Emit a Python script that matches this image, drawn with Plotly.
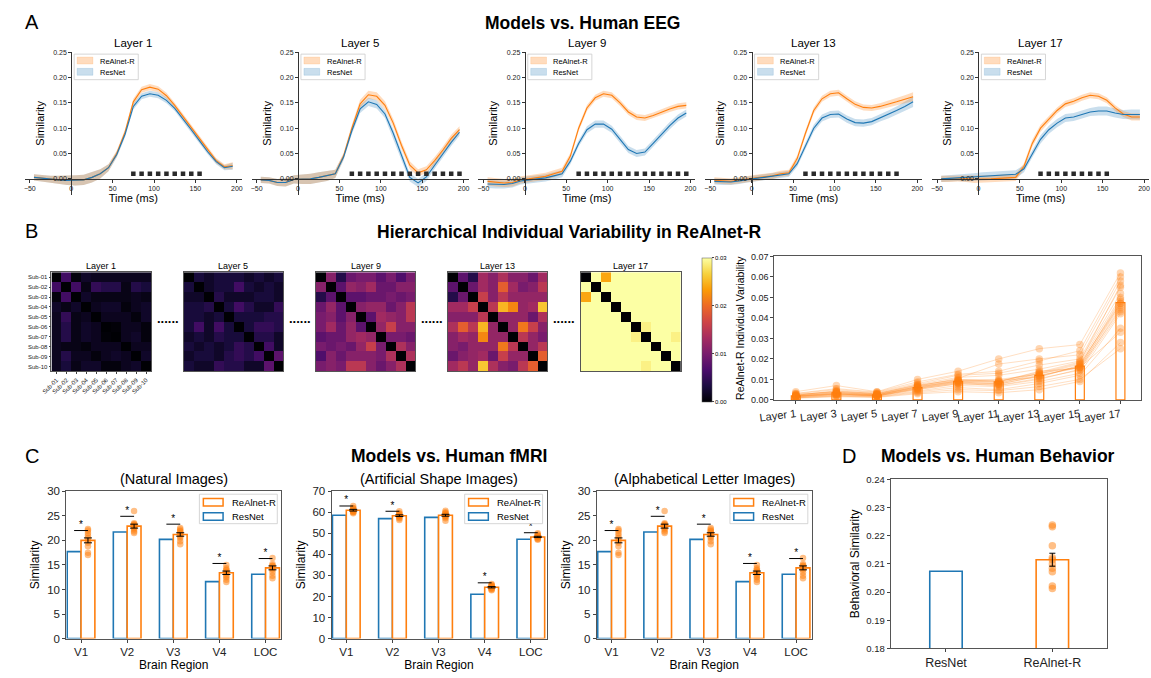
import plotly.graph_objects as go
import numpy as np

W, H = 1151, 678
FONT = 'Liberation Sans, Arial, sans-serif'
ORANGE = '#ff7f0e'
BLUE = '#1f77b4'
O_FILL = 'rgba(255,127,14,0.27)'
B_FILL = 'rgba(31,119,180,0.24)'


def PX(x):
    return x / W


def PY(y):
    return 1 - y / H


# ------------------------------------------------------------------ data A
times = [-45, -35, -25, -15, -5, 5, 15, 25, 35, 45, 55, 65, 75, 85, 95, 105,
         115, 125, 135, 145, 155, 165, 175, 185, 195]
eeg_layers = ['Layer 1', 'Layer 5', 'Layer 9', 'Layer 13', 'Layer 17']

realnet_L1 = [0.003, 0.001, -0.001, -0.002, -0.003, -0.003, -0.002, 0.003, 0.010, 0.022, 0.050, 0.092, 0.152,
              0.176, 0.181, 0.177, 0.164, 0.145, 0.123, 0.100, 0.078, 0.056, 0.036, 0.024, 0.026]
resnet_L1 = [0.003, 0.001, -0.001, -0.002, -0.003, -0.003, -0.002, 0.003, 0.010, 0.022, 0.048, 0.088, 0.143,
             0.163, 0.168, 0.165, 0.155, 0.139, 0.119, 0.097, 0.075, 0.053, 0.034, 0.022, 0.025]
realnet_sem_L1 = [0.006, 0.006, 0.007, 0.008, 0.009, 0.010, 0.010, 0.010, 0.009, 0.007, 0.006, 0.006, 0.006,
                  0.006, 0.006, 0.006, 0.006, 0.005, 0.005, 0.005, 0.005, 0.005, 0.005, 0.005, 0.007]
resnet_sem_L1 = [0.006, 0.006, 0.007, 0.008, 0.009, 0.010, 0.010, 0.010, 0.009, 0.007, 0.006, 0.006, 0.006,
                 0.006, 0.006, 0.006, 0.006, 0.005, 0.005, 0.005, 0.005, 0.005, 0.005, 0.005, 0.007]
sig_L1 = [75, 85, 95, 105, 115, 125, 135, 145, 155]

realnet_L5 = [-0.002, -0.003, -0.007, -0.007, -0.001, -0.001, 0.000, 0.003, 0.006, 0.010, 0.045, 0.100, 0.148,
              0.166, 0.163, 0.145, 0.110, 0.066, 0.027, 0.012, 0.018, 0.036, 0.057, 0.080, 0.097]
resnet_L5 = [-0.002, -0.003, -0.007, -0.007, -0.001, -0.001, 0.000, 0.003, 0.006, 0.010, 0.043, 0.095, 0.138,
             0.152, 0.147, 0.128, 0.090, 0.045, 0.003, -0.008, 0.004, 0.027, 0.050, 0.072, 0.092]
realnet_sem_L5 = [0.006, 0.006, 0.007, 0.008, 0.008, 0.009, 0.010, 0.010, 0.010, 0.008, 0.006, 0.007, 0.008,
                  0.008, 0.008, 0.008, 0.008, 0.008, 0.008, 0.007, 0.007, 0.007, 0.007, 0.007, 0.007]
resnet_sem_L5 = [0.006, 0.006, 0.007, 0.008, 0.008, 0.009, 0.010, 0.010, 0.010, 0.008, 0.006, 0.007, 0.008,
                 0.008, 0.008, 0.008, 0.008, 0.008, 0.008, 0.008, 0.008, 0.007, 0.007, 0.007, 0.007]
sig_L5 = [65, 75, 85, 95, 105, 115, 125, 135, 145, 155, 165, 175, 185, 195]

realnet_L9 = [-0.005, -0.007, -0.008, -0.007, -0.002, 0.000, 0.003, 0.005, 0.010, 0.015, 0.045, 0.100, 0.140,
              0.160, 0.168, 0.165, 0.150, 0.132, 0.122, 0.120, 0.125, 0.132, 0.138, 0.143, 0.145]
resnet_L9 = [-0.010, -0.011, -0.011, -0.009, -0.004, -0.002, 0.000, 0.002, 0.006, 0.010, 0.035, 0.070, 0.097,
             0.108, 0.108, 0.098, 0.078, 0.058, 0.050, 0.053, 0.070, 0.088, 0.105, 0.120, 0.130]
realnet_sem_L9 = [0.008, 0.008, 0.008, 0.008, 0.007, 0.007, 0.007, 0.007, 0.007, 0.007, 0.006, 0.006, 0.006,
                  0.006, 0.006, 0.006, 0.006, 0.006, 0.006, 0.006, 0.006, 0.006, 0.006, 0.006, 0.006]
resnet_sem_L9 = [0.008, 0.008, 0.008, 0.008, 0.007, 0.007, 0.007, 0.007, 0.007, 0.007, 0.006, 0.006, 0.007,
                 0.007, 0.007, 0.007, 0.007, 0.007, 0.007, 0.007, 0.007, 0.007, 0.007, 0.007, 0.007]
sig_L9 = [65, 75, 85, 95, 105, 115, 125, 135, 145, 155, 165, 175, 185, 195]

realnet_L13 = [-0.003, -0.004, -0.005, -0.003, 0.000, 0.002, 0.004, 0.006, 0.010, 0.012, 0.040, 0.090, 0.135,
               0.158, 0.168, 0.170, 0.158, 0.147, 0.141, 0.140, 0.143, 0.147, 0.152, 0.157, 0.162]
resnet_L13 = [-0.005, -0.006, -0.006, -0.004, -0.001, 0.001, 0.003, 0.005, 0.008, 0.010, 0.030, 0.065, 0.100,
              0.120, 0.127, 0.128, 0.118, 0.111, 0.110, 0.113, 0.120, 0.127, 0.135, 0.143, 0.152]
realnet_sem_L13 = [0.006, 0.006, 0.006, 0.006, 0.006, 0.006, 0.006, 0.006, 0.006, 0.006, 0.006, 0.006, 0.006,
                   0.006, 0.006, 0.006, 0.006, 0.006, 0.006, 0.006, 0.006, 0.007, 0.007, 0.008, 0.009]
resnet_sem_L13 = [0.006, 0.006, 0.006, 0.006, 0.006, 0.006, 0.006, 0.006, 0.006, 0.006, 0.006, 0.007, 0.007,
                  0.007, 0.007, 0.007, 0.007, 0.007, 0.007, 0.007, 0.007, 0.008, 0.008, 0.009, 0.010]
sig_L13 = [65, 75, 85, 95, 105, 115, 125, 135, 145, 155, 165, 175]

realnet_L17 = [0.000, 0.000, 0.001, 0.000, -0.001, -0.001, 0.000, 0.001, 0.002, 0.003, 0.025, 0.070, 0.100,
               0.118, 0.135, 0.148, 0.153, 0.160, 0.165, 0.163, 0.155, 0.140, 0.128, 0.122, 0.122]
resnet_L17 = [0.000, 0.001, 0.002, 0.002, 0.003, 0.005, 0.006, 0.007, 0.008, 0.009, 0.020, 0.050, 0.078,
              0.097, 0.110, 0.120, 0.122, 0.127, 0.132, 0.134, 0.134, 0.130, 0.127, 0.127, 0.127]
realnet_sem_L17 = [0.006, 0.006, 0.006, 0.006, 0.007, 0.007, 0.007, 0.007, 0.007, 0.007, 0.006, 0.007, 0.007,
                   0.006, 0.006, 0.006, 0.006, 0.006, 0.006, 0.006, 0.006, 0.006, 0.006, 0.007, 0.007]
resnet_sem_L17 = [0.006, 0.006, 0.006, 0.007, 0.008, 0.008, 0.008, 0.008, 0.008, 0.008, 0.007, 0.008, 0.008,
                  0.008, 0.008, 0.008, 0.008, 0.008, 0.008, 0.009, 0.009, 0.009, 0.009, 0.010, 0.010]
sig_L17 = [75, 85, 95, 105, 115, 125, 135, 145, 155]

sig_marker_level = 0.01

eeg_realnet = [realnet_L1, realnet_L5, realnet_L9, realnet_L13, realnet_L17]
eeg_resnet = [resnet_L1, resnet_L5, resnet_L9, resnet_L13, resnet_L17]
eeg_realnet_sem = [realnet_sem_L1, realnet_sem_L5, realnet_sem_L9, realnet_sem_L13, realnet_sem_L17]
eeg_resnet_sem = [resnet_sem_L1, resnet_sem_L5, resnet_sem_L9, resnet_sem_L13, resnet_sem_L17]
eeg_sig = [sig_L1, sig_L5, sig_L9, sig_L13, sig_L17]

# ------------------------------------------------------------------ data B
subjects = ['Sub-01', 'Sub-02', 'Sub-03', 'Sub-04', 'Sub-05', 'Sub-06', 'Sub-07', 'Sub-08', 'Sub-09', 'Sub-10']
heat_layers = ['Layer 1', 'Layer 5', 'Layer 9', 'Layer 13', 'Layer 17']

heat_upper_L1 = [
    [.006, .0005, .002, .0015, .0015, .0015, .0015, .0015, .0015],
    [.006, .001, .005, .004, .004, .001, .004, .003],
    [.002, .001, .001, .001, .001, .0015, .001],
    [.0015, .002, .002, .0005, .0015, .002],
    [.0015, .0015, .0015, .0005, .002],
    [.0002, .0015, .0015, .0005],
    [.0015, .002, .0005],
    [.0015, .0015],
    [.002],
]
heat_upper_L5 = [
    [.003, .002, .003, .003, .003, .002, .003, .002, .003],
    [.002, .003, .003, .006, .003, .002, .003, .002],
    [.004, .002, .002, .002, .003, .003, .002],
    [.003, .006, .004, .002, .002, .005],
    [.003, .003, .003, .004, .004],
    [.003, .005, .005, .004],
    [.004, .004, .002],
    [.006, .002],
    [.008],
]
heat_upper_L9 = [
    [.011, .004, .009, .010, .010, .008, .010, .007, .010],
    [.008, .012, .011, .013, .009, .009, .011, .011],
    [.008, .008, .009, .009, .010, .009, .010],
    [.011, .012, .012, .009, .011, .015],
    [.008, .013, .012, .011, .015],
    [.012, .016, .011, .011],
    [.010, .010, .009],
    [.014, .011],
    [.014],
]
heat_upper_L13 = [
    [.008, .004, .013, .011, .014, .011, .011, .009, .013],
    [.009, .013, .011, .019, .013, .010, .011, .015],
    [.016, .011, .015, .012, .012, .012, .012],
    [.015, .025, .022, .012, .013, .026],
    [.012, .012, .012, .009, .014],
    [.012, .021, .016, .011],
    [.015, .012, .010],
    [.012, .015],
    [.019],
]
heat_upper_L17 = [
    [.048, .024, .052, .045, .050, .041, .047, .055, .043],
    [.046, .051, .044, .049, .053, .042, .047, .050],
    [.045, .048, .040, .046, .051, .044, .049],
    [.047, .052, .043, .050, .045, .048],
    [.046, .041, .049, .044, .052],
    [.029, .047, .050, .043],
    [.045, .042, .029],
    [.048, .046],
    [.051],
]
heat_uppers = [heat_upper_L1, heat_upper_L5, heat_upper_L9, heat_upper_L13, heat_upper_L17]

var_layers = ['Layer 1', 'Layer 3', 'Layer 5', 'Layer 7', 'Layer 9', 'Layer 11', 'Layer 13', 'Layer 15', 'Layer 17']
var_bar_means = [0.0020, 0.0035, 0.0025, 0.0060, 0.0090, 0.0088, 0.0120, 0.0165, 0.0475]
var_individual = [
    [.0020, .0030, .0025, .0060, .0090, .0085, .0120, .0160, .0470],
    [.0025, .0040, .0030, .0070, .0100, .0090, .0130, .0180, .0500],
    [.0015, .0025, .0020, .0050, .0080, .0070, .0100, .0150, .0450],
    [.0030, .0050, .0035, .0080, .0120, .0130, .0170, .0200, .0550],
    [.0010, .0020, .0015, .0040, .0060, .0050, .0080, .0120, .0350],
    [.0040, .0070, .0040, .0100, .0140, .0200, .0250, .0270, .0620],
    [.0020, .0035, .0025, .0065, .0095, .0095, .0110, .0170, .0480],
    [.0018, .0030, .0020, .0055, .0085, .0080, .0130, .0160, .0460],
    [.0022, .0045, .0030, .0075, .0110, .0120, .0150, .0190, .0520],
    [.0012, .0022, .0018, .0045, .0070, .0065, .0090, .0130, .0420],
    [.0028, .0038, .0028, .0068, .0105, .0175, .0200, .0220, .0580],
    [.0016, .0028, .0022, .0058, .0088, .0078, .0115, .0165, .0490],
    [.0008, .0015, .0012, .0030, .0040, .0035, .0050, .0090, .0280],
    [.0024, .0042, .0032, .0072, .0098, .0100, .0125, .0175, .0470],
    [.0019, .0033, .0024, .0062, .0092, .0088, .0140, .0155, .0440],
    [.0014, .0026, .0019, .0052, .0078, .0072, .0105, .0145, .0430],
    [.0032, .0055, .0038, .0088, .0125, .0140, .0190, .0240, .0600],
    [.0010, .0018, .0014, .0035, .0050, .0045, .0065, .0100, .0250],
    [.0021, .0036, .0026, .0064, .0093, .0092, .0135, .0185, .0560],
    [.0017, .0029, .0021, .0056, .0083, .0076, .0118, .0158, .0330],
]

# ------------------------------------------------------------------ data C
regions = ['V1', 'V2', 'V3', 'V4', 'LOC']

nat_resnet = [17.7, 21.7, 20.2, 11.6, 13.1]
nat_realnet = [20.0, 22.9, 21.2, 13.4, 14.4]
nat_realnet_sem = [0.5, 0.4, 0.35, 0.35, 0.4]
nat_subjects = [
    [22.3, 22.0, 21.5, 20.5, 20.0, 19.5, 18.8, 17.5, 17.0, 21.0],
    [26.0, 23.5, 23.2, 23.0, 22.8, 22.5, 22.2, 21.8, 21.5, 23.3],
    [22.5, 22.2, 21.8, 21.5, 21.2, 20.8, 20.5, 19.8, 19.2, 21.9],
    [15.0, 14.3, 13.8, 13.5, 13.2, 12.8, 12.5, 12.0, 11.5, 14.0],
    [16.4, 15.2, 14.8, 14.5, 14.3, 14.0, 13.5, 12.8, 12.3, 14.9],
]
nat_sig_y = [22.0, 24.9, 23.3, 15.3, 16.3]

art_resnet = [58.6, 57.0, 57.6, 21.1, 47.2]
art_realnet = [61.0, 58.4, 58.6, 24.4, 48.3]
art_realnet_sem = [0.4, 0.4, 0.45, 0.3, 0.3]
art_subjects = [
    [63.0, 62.0, 61.5, 61.0, 60.8, 60.5, 60.0, 59.5, 61.8, 60.2],
    [60.5, 59.5, 59.0, 58.5, 58.2, 58.0, 57.5, 57.0, 56.3, 59.2],
    [60.7, 60.0, 59.3, 58.8, 58.5, 58.2, 57.8, 57.2, 56.0, 59.6],
    [26.0, 25.5, 25.0, 24.6, 24.3, 24.0, 23.7, 23.3, 23.0, 25.2],
    [50.0, 49.5, 49.0, 48.6, 48.3, 48.0, 47.6, 47.3, 47.0, 48.8],
]
art_sig_y = [63.0, 60.5, None, 26.5, 50.3]

alp_resnet = [17.7, 21.7, 20.2, 11.6, 13.1]
alp_realnet = [20.0, 22.9, 21.2, 13.4, 14.4]
alp_realnet_sem = [0.5, 0.4, 0.35, 0.35, 0.4]
alp_subjects = [
    [22.3, 22.0, 21.5, 20.5, 20.0, 19.5, 18.8, 17.5, 17.0, 21.0],
    [26.0, 23.5, 23.2, 23.0, 22.8, 22.5, 22.2, 21.8, 21.5, 23.3],
    [22.5, 22.2, 21.8, 21.5, 21.2, 20.8, 20.5, 19.8, 19.2, 21.9],
    [15.0, 14.3, 13.8, 13.5, 13.2, 12.8, 12.5, 12.0, 11.5, 14.0],
    [16.4, 15.2, 14.8, 14.5, 14.3, 14.0, 13.5, 12.8, 12.3, 14.9],
]
alp_sig_y = [22.0, 24.9, 23.3, 15.3, 16.3]

# ------------------------------------------------------------------ data D
beh_models = ['ResNet', 'ReAlnet-R']
beh_resnet = 0.2074
beh_realnet = 0.2115
beh_realnet_sem = 0.0023
beh_subjects = [0.2238, 0.2232, 0.2165, 0.2122, 0.2115, 0.2085, 0.2072, 0.2022, 0.2013, 0.2100]

# ================================================================== figure
fig = go.Figure()
layout = {}
annotations = []
shapes = []
counter = [0]


def new_axes(xpx, ypx, xkw, ykw):
    counter[0] += 1
    n = counter[0]
    sfx = '' if n == 1 else str(n)
    xa = dict(domain=[PX(xpx[0]), PX(xpx[1])], anchor='y' + sfx, showgrid=False, zeroline=False)
    ya = dict(domain=[PY(ypx[1]), PY(ypx[0])], anchor='x' + sfx, showgrid=False, zeroline=False)
    xa.update(xkw)
    ya.update(ykw)
    layout['xaxis' + sfx] = xa
    layout['yaxis' + sfx] = ya
    return 'x' + sfx, 'y' + sfx


def ann(text, x, y, size, bold=False, xanchor='center', yanchor='middle', color='#000'):
    annotations.append(dict(text=('<b>%s</b>' % text) if bold else text, x=PX(x), y=PY(y),
                            xref='paper', yref='paper', showarrow=False,
                            font=dict(size=size, family=FONT, color=color),
                            xanchor=xanchor, yanchor=yanchor))


def rect(x0, y0, x1, y1, fill, line, lw):
    shapes.append(dict(type='rect', xref='paper', yref='paper', x0=PX(x0), x1=PX(x1),
                       y0=PY(y1), y1=PY(y0), fillcolor=fill, line=dict(color=line, width=lw)))


def tickfont(s):
    return dict(size=s, family=FONT, color='#222')


# ------------------------------------------------------------------ panel A
ann('A', 8, 16, 20, xanchor='left')
ann('Models vs. Human EEG', 575, 17, 17.5, bold=True)
for i in range(5):
    x0 = 10 + 230 * i
    xkw = dict(range=[-56, 206], tickvals=[-50, 0, 50, 100, 150, 200], showline=True, linecolor='#333',
               linewidth=1, ticks='outside', ticklen=3, tickcolor='#333', tickfont=tickfont(7),
               anchor='free', position=PY(176),
               title=dict(text='Time (ms)', font=dict(size=11, family=FONT), standoff=1))
    ykw = dict(range=[-0.031, 0.25], tickvals=[0, 0.05, 0.10, 0.15, 0.20, 0.25], tickformat='.2f',
               showline=True, linecolor='#333', linewidth=1, ticks='outside', ticklen=3, tickcolor='#333',
               tickfont=tickfont(7), anchor='free', position=PX(x0 + 47),
               title=dict(text='Similarity', font=dict(size=11, family=FONT), standoff=5))
    xa, ya = new_axes((x0, x0 + 220), (47, 192), xkw, ykw)
    # ResNet band first, ReAlnet-R band over it (tan overlap)
    for mean, sem, fcol in [(eeg_resnet[i], eeg_resnet_sem[i], B_FILL),
                            (eeg_realnet[i], eeg_realnet_sem[i], O_FILL)]:
        m = np.array(mean)
        s = np.array(sem)
        fig.add_trace(go.Scatter(x=times + times[::-1], y=list(m + s) + list((m - s)[::-1]),
                                 fill='toself', fillcolor=fcol, line=dict(width=0), mode='lines',
                                 hoverinfo='skip', showlegend=False, xaxis=xa, yaxis=ya))
    for mean, lcol in [(eeg_realnet[i], ORANGE), (eeg_resnet[i], BLUE)]:
        fig.add_trace(go.Scatter(x=times, y=mean, mode='lines', line=dict(color=lcol, width=1.1),
                                 showlegend=False, xaxis=xa, yaxis=ya))
    fig.add_trace(go.Scatter(x=eeg_sig[i], y=[sig_marker_level] * len(eeg_sig[i]), mode='markers',
                             marker=dict(symbol='square', size=4.5, color='#2a2a2a'),
                             showlegend=False, xaxis=xa, yaxis=ya))
    ann(eeg_layers[i], x0 + 110, 38, 11.5)
    # legend box
    rect(x0 + 50, 49, x0 + 115, 75, 'white', '#cccccc', 0.8)
    rect(x0 + 53, 52, x0 + 69, 59, O_FILL, 'rgba(255,127,14,0.3)', 0.5)
    rect(x0 + 53, 63.5, x0 + 69, 70.5, B_FILL, 'rgba(31,119,180,0.3)', 0.5)
    ann('ReAlnet-R', x0 + 74, 56, 7.5, xanchor='left')
    ann('ResNet', x0 + 74, 67.5, 7.5, xanchor='left')

# ------------------------------------------------------------------ panel B
ann('B', 8, 229, 20, xanchor='left')
ann('Hierarchical Individual Variability in ReAlnet-R', 562, 230, 17.5, bold=True)
heat_x = [37, 171, 305, 439, 574]
for k in range(5):
    up = heat_uppers[k]
    n = len(subjects)
    z = [[0.0] * n for _ in range(n)]
    for r in range(n - 1):
        for c, v in enumerate(up[r]):
            z[r][r + 1 + c] = v
            z[r + 1 + c][r] = v
    first = (k == 0)
    xkw = dict(showline=True, mirror=True, linecolor='#555', linewidth=0.8,
               showticklabels=first, ticks='outside' if first else '', ticklen=2,
               tickangle=-45, tickfont=tickfont(6), type='category')
    ykw = dict(showline=True, mirror=True, linecolor='#555', linewidth=0.8, autorange='reversed',
               showticklabels=first, ticks='outside' if first else '', ticklen=2,
               tickfont=tickfont(6), type='category')
    xa, ya = new_axes((heat_x[k], heat_x[k] + 101), (271, 372), xkw, ykw)
    fig.add_trace(go.Heatmap(z=z, x=subjects, y=subjects, coloraxis='coloraxis', xaxis=xa, yaxis=ya,
                             xgap=0, ygap=0))
    ann(heat_layers[k], heat_x[k] + 50.5, 265, 9)
    if k < 4:
        ann('<b>......</b>', heat_x[k] + 118, 318, 13)

layout['coloraxis'] = dict(colorscale='Inferno', cmin=0, cmax=0.03,
                           colorbar=dict(x=PX(687), xanchor='left', y=PY(246), yanchor='top',
                                         len=(413 - 246) / H, lenmode='fraction', thickness=10,
                                         thicknessmode='pixels', tickvals=[0, 0.01, 0.02, 0.03],
                                         tickformat='.2f', tickfont=dict(size=6, family=FONT),
                                         ticks='outside', ticklen=2, outlinewidth=0.5,
                                         outlinecolor='#555'))

xkw = dict(range=[-0.53, 8.51], tickvals=list(range(len(var_layers))), ticktext=var_layers, tickangle=-7,
           showline=True, mirror=True, linecolor='#555', linewidth=1, ticks='outside', ticklen=3,
           tickfont=tickfont(11))
ykw = dict(range=[0, 0.07], tickvals=[0, 0.01, 0.02, 0.03, 0.04, 0.05, 0.06, 0.07], tickformat='.2f',
           showline=True, mirror=True, linecolor='#555', linewidth=1, ticks='outside', ticklen=3,
           tickfont=tickfont(9),
           title=dict(text='ReAlnet-R Individual Variability', font=dict(size=10.5, family=FONT), standoff=4))
xa, ya = new_axes((770, 1142), (255, 401), xkw, ykw)
lx = list(range(len(var_layers)))
fig.add_trace(go.Bar(x=lx, y=var_bar_means, width=0.22, marker=dict(color='rgba(0,0,0,0)',
                     line=dict(color=ORANGE, width=1.2)), showlegend=False, xaxis=xa, yaxis=ya))
for subj in var_individual:
    fig.add_trace(go.Scatter(x=lx, y=subj, mode='lines+markers',
                             line=dict(color='rgba(255,127,14,0.25)', width=1),
                             marker=dict(color='rgba(255,127,14,0.32)', size=7.5),
                             showlegend=False, xaxis=xa, yaxis=ya))

# ------------------------------------------------------------------ panel C
ann('C', 8, 458, 20, xanchor='left')
ann('Models vs. Human fMRI', 440, 458, 17.5, bold=True)
c_panels = [
    ('(Natural Images)', nat_resnet, nat_realnet, nat_realnet_sem, nat_subjects, nat_sig_y, [0, 30], 5),
    ('(Artificial Shape Images)', art_resnet, art_realnet, art_realnet_sem, art_subjects, art_sig_y, [0, 70], 10),
    ('(Alphabetical Letter Images)', alp_resnet, alp_realnet, alp_realnet_sem, alp_subjects, alp_sig_y, [0, 30], 5),
]
c_x = [52, 321, 590]
rx = np.arange(len(regions))
for p, (title, res, rea, sem, subj, sig, yr, dt) in enumerate(c_panels):
    axl = c_x[p]
    xkw = dict(range=[-0.32, 4.34], tickvals=list(rx), ticktext=regions, showline=True, mirror=True,
               linecolor='#555', linewidth=1, ticks='outside', ticklen=3, tickfont=tickfont(11.5),
               title=dict(text='Brain Region', font=dict(size=12, family=FONT), standoff=2))
    ykw = dict(range=yr, tickvals=list(range(yr[0], yr[1] + 1, dt)), showline=True, mirror=True,
               linecolor='#555', linewidth=1, ticks='outside', ticklen=3, tickfont=tickfont(11.5),
               title=dict(text='Similarity', font=dict(size=12, family=FONT), standoff=4))
    xa, ya = new_axes((axl, axl + 218), (494, 644), xkw, ykw)
    fig.add_trace(go.Bar(x=rx, y=res, width=0.3, offset=-0.3, marker=dict(color='white',
                         line=dict(color=BLUE, width=1.6)), showlegend=False, xaxis=xa, yaxis=ya))
    fig.add_trace(go.Bar(x=rx, y=rea, width=0.3, offset=0.0, marker=dict(color='white',
                         line=dict(color=ORANGE, width=1.6)), showlegend=False, xaxis=xa, yaxis=ya))
    dx, dy = [], []
    for i, vals in enumerate(subj):
        dx += [i + 0.15] * len(vals)
        dy += vals
    fig.add_trace(go.Scatter(x=dx, y=dy, mode='markers', marker=dict(color='rgba(255,127,14,0.5)', size=6.5),
                             showlegend=False, xaxis=xa, yaxis=ya))
    fig.add_trace(go.Scatter(x=list(rx + 0.15), y=rea, mode='markers', marker=dict(size=0.1, color='black'),
                             error_y=dict(type='data', array=sem, color='black', thickness=1, width=4),
                             showlegend=False, xaxis=xa, yaxis=ya))
    sx, sy, tx, ty = [], [], [], []
    for i, h in enumerate(sig):
        if h is None:
            continue
        sx += [i - 0.15, i + 0.15, None]
        sy += [h, h, None]
        tx.append(i)
        ty.append(h)
    fig.add_trace(go.Scatter(x=sx, y=sy, mode='lines', line=dict(color='black', width=1),
                             showlegend=False, xaxis=xa, yaxis=ya))
    fig.add_trace(go.Scatter(x=tx, y=ty, mode='text', text=['*'] * len(tx), textposition='top center',
                             textfont=dict(size=10, family=FONT, color='black'),
                             showlegend=False, xaxis=xa, yaxis=ya))
    ann(title, axl + 109, 482, 14.5)
    # legend
    rect(axl + 135, 497, axl + 214, 527, 'white', '#cccccc', 0.8)
    rect(axl + 139, 501.5, axl + 159, 509, 'white', ORANGE, 1.5)
    rect(axl + 139, 516, axl + 159, 523.5, 'white', BLUE, 1.5)
    ann('ReAlnet-R', axl + 166, 505.5, 9.5, xanchor='left')
    ann('ResNet', axl + 166, 520, 9.5, xanchor='left')

# ------------------------------------------------------------------ panel D
ann('D', 837, 458, 20, xanchor='left')
ann('Models vs. Human Behavior', 997, 458, 17.5, bold=True)
xkw = dict(range=[-0.52, 1.51], tickvals=[0, 1], ticktext=beh_models, showline=True, mirror=True,
           linecolor='#555', linewidth=1, ticks='outside', ticklen=3, tickfont=tickfont(12.5))
ykw = dict(range=[0.18, 0.24], tickvals=[0.18, 0.19, 0.20, 0.21, 0.22, 0.23, 0.24], tickformat='.2f',
           showline=True, mirror=True, linecolor='#555', linewidth=1, ticks='outside', ticklen=3,
           tickfont=tickfont(9.5),
           title=dict(text='Behavioral Similarity', font=dict(size=12, family=FONT), standoff=4))
xa, ya = new_axes((888, 1107), (482, 654), xkw, ykw)
fig.add_trace(go.Bar(x=[0], y=[beh_resnet], width=0.305, marker=dict(color='white', line=dict(color=BLUE, width=1.6)),
                     showlegend=False, xaxis=xa, yaxis=ya))
fig.add_trace(go.Bar(x=[1], y=[beh_realnet], width=0.305, marker=dict(color='white', line=dict(color=ORANGE, width=1.6)),
                     showlegend=False, xaxis=xa, yaxis=ya))
fig.add_trace(go.Scatter(x=[1] * len(beh_subjects), y=beh_subjects, mode='markers',
                         marker=dict(color='rgba(255,127,14,0.5)', size=7.5),
                         showlegend=False, xaxis=xa, yaxis=ya))
fig.add_trace(go.Scatter(x=[1], y=[beh_realnet], mode='markers', marker=dict(size=0.1, color='black'),
                         error_y=dict(type='data', array=[beh_realnet_sem], color='black', thickness=1, width=3),
                         showlegend=False, xaxis=xa, yaxis=ya))

layout.update(dict(width=W, height=H, margin=dict(l=0, r=0, t=0, b=0), paper_bgcolor='white',
                   plot_bgcolor='white', showlegend=False, annotations=annotations, shapes=shapes,
                   font=dict(family=FONT, color='#000'), barmode='overlay'))
fig.update_layout(**layout)
fig.write_html('out.html')
